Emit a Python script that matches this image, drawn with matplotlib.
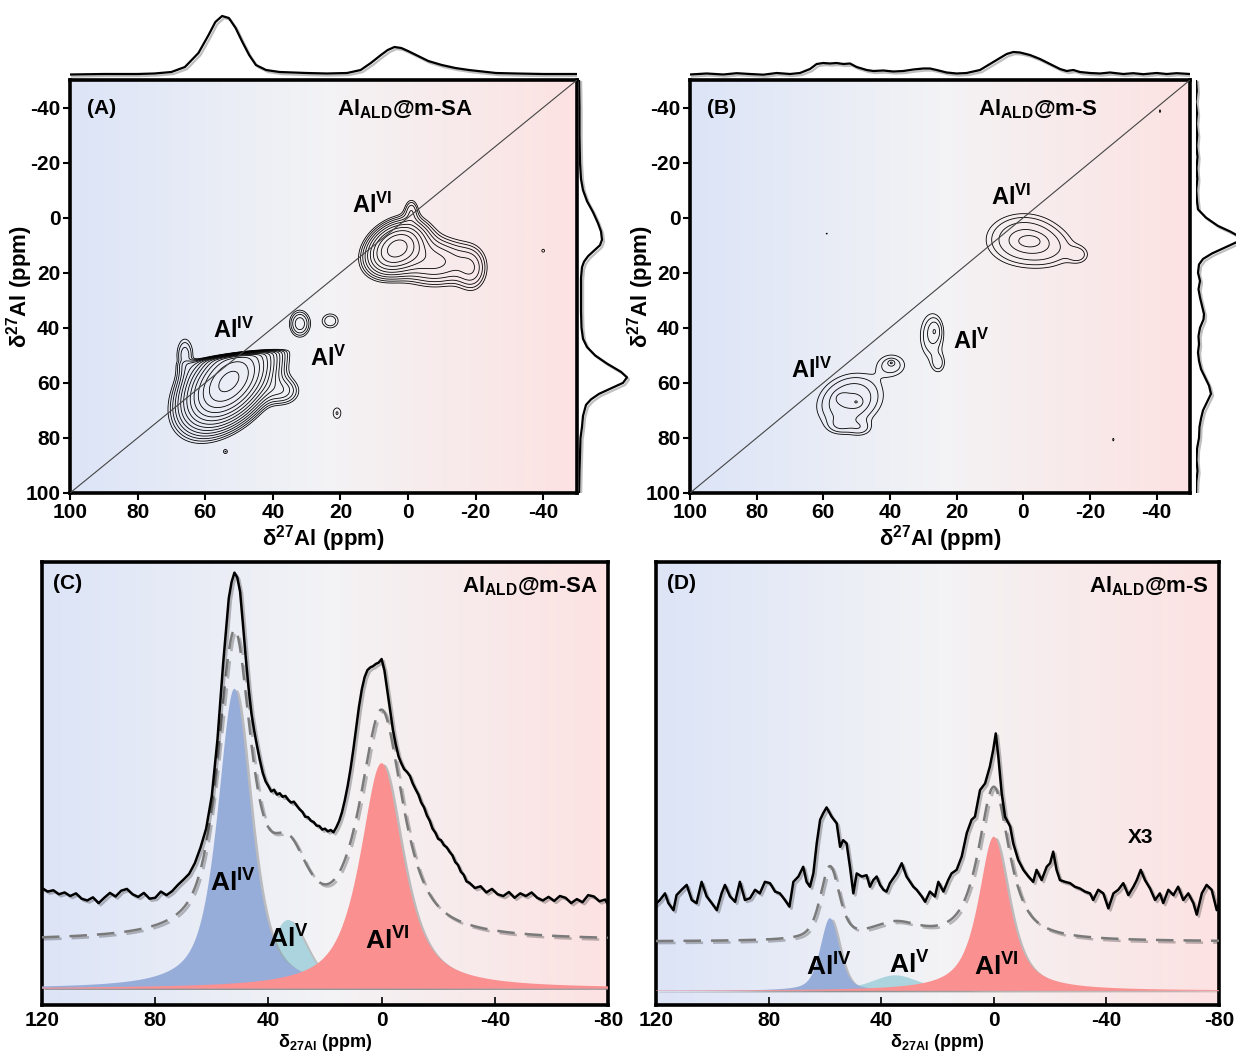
import numpy as np
import matplotlib.pyplot as plt
import matplotlib.patheffects as pe
from matplotlib.colors import LinearSegmentedColormap

plt.rcParams['font.family'] = ['Liberation Sans', 'DejaVu Sans']
plt.rcParams['font.weight'] = 'bold'
plt.rcParams['axes.labelweight'] = 'bold'
plt.rcParams['mathtext.default'] = 'regular'
plt.rcParams['axes.unicode_minus'] = False

# ---------------- 2D panels: peak lists ----------------
# columns: F2 centre, F1 centre, sigma F2, sigma F1, tilt, amplitude (ppm)
a_c2 = [53, 66, 37, 54, 32, 23, 21, 3.5, -8, -19, -1, -40]
a_c1 = [59.5, 50, 63, 85, 38.5, 37.5, 71, 11, 16, 19, -3, 12]
a_s2 = [6.8, 2.0, 3.5, 0.7, 2.2, 2.3, 1.5, 5.0, 7.0, 3.0, 1.5, 0.7]
a_s1 = [8.5, 5.0, 3.5, 0.9, 3.5, 2.5, 2.5, 5.5, 5.5, 5.5, 3.0, 0.9]
a_r = [0.45, 0, 0, 0, 0, 0, 0, 0.3, 0, 0, 0, 0]
a_amp = [1.0, 0.06, 0.07, 0.036, 0.08, 0.05, 0.04, 0.35, 0.12, 0.06, 0.05, 0.036]
a_cut = (50, 0.15, 0.4)   # steep upper edge of the Al(IV) ridge
a_levels = [0.03 * 1.3 ** k for k in range(14)]

b_c2 = [52, 54.5, 50, 55, 49, 39.5, 39.6, 27.5, 25.5, 26.5, 0, -8, -16.5, -2, 59, -41, -27]
b_c1 = [66.5, 65.5, 67, 75.5, 76.5, 53.5, 52.7, 43, 53, 41, 8, 11.5, 13.5, 8.5, 5.8, -38.7, 80.6]
b_s2 = [6, 1.2, 1.2, 2.5, 2.5, 3.2, 0.6, 2.6, 1.5, 1.2, 6.5, 5.5, 2.2, 2.5, 0.5, 0.5, 0.5]
b_s1 = [6, 1.2, 1.2, 2, 2, 3.0, 0.6, 6.0, 2.5, 2.5, 5.5, 4.5, 2.2, 1.5, 0.6, 1.0, 1.0]
b_r = [0.2] + [0] * 16
b_amp = [0.12, 0.05, 0.05, 0.045, 0.045, 0.06, 0.06, 0.07, 0.05, 0.05, 0.13, 0.05, 0.05, 0.06,
         0.033, 0.034, 0.034]
b_levels = [0.03, 0.045, 0.07, 0.11, 0.16]

# ---------------- projections (px above baseline) ----------------
a_top_ppm = [100, 90, 80, 75, 70, 66, 62, 59, 57, 55, 53, 51, 49, 47, 45, 42, 38, 30, 24, 18, 14, 11,
             8, 6, 4, 2, 0, -3, -6, -10, -14, -18, -22, -26, -32, -40, -50]
a_top_val = [0.5, 1, 1, 1.5, 3, 8, 22, 40, 53, 59, 57, 47, 33, 20, 10, 5, 3, 2, 1.5, 2, 5, 12,
             20, 25, 28, 27, 24, 19, 14, 10, 7, 5, 3.5, 2, 1.5, 1, 1]
b_top_ppm = [100, 95, 90, 86, 82, 78, 74, 70, 67, 64, 62, 60, 58, 56, 54, 52, 50, 47, 45, 42, 39, 36,
             33, 30, 28, 26, 23, 20, 17, 13, 10, 7, 5, 3, 1, -2, -5, -8, -11, -13, -15, -17, -20,
             -23, -26, -30, -33, -36, -40, -43, -46, -50]
b_top_val = [0.5, 1.5, 0.5, 1.8, 1, 0.3, 2, 1, 2, 6, 11, 12, 11.5, 12, 11, 11.5, 8, 5, 4, 4.5, 3.5, 4,
             5.5, 6.5, 6.5, 5, 2.5, 1.5, 2, 5, 11, 17, 21, 23, 22.5, 20, 16, 11, 6, 4, 5, 3, 2,
             1.5, 2.5, 1, 1.8, 0.8, 2, 1, 1.8, 1]
a_right_ppm = [-50, -40, -30, -20, -14, -10, -6, -2, 2, 5, 8, 10, 12, 14, 16, 18, 22, 28, 34, 40, 44,
               47, 50, 53, 56, 58, 60, 62, 64, 66, 68, 72, 76, 80, 86, 92, 100]
a_right_val = [0, 0.5, 0.5, 1, 2, 4, 8, 14, 19, 22, 23, 21, 15, 9, 5, 3, 2, 2, 2, 2.5, 4,
               8, 16, 28, 42, 48, 44, 32, 20, 12, 7, 4, 3, 1.5, 1, 0.5, 0]
b_right_ppm = [-50, -46, -42, -38, -34, -30, -26, -22, -18, -14, -10, -6, -3, 0, 3, 5, 7, 8, 9, 11,
               13, 15, 17, 20, 23, 26, 29, 32, 35, 37, 40, 43, 46, 49, 52, 55, 58, 61, 64, 67,
               70, 73, 76, 80, 84, 88, 92, 96, 100]
b_right_val = [0, 0.8, -0.5, 1, 0, 1.2, 0.3, 1.5, 0.5, 1.3, 0.2, 1, 2, 10, 22, 34, 44, 46, 40, 28,
               16, 7, 3, 2, 4, 2.5, 4, 6, 8, 7.5, 4, 2.5, 3, 2, 3, 5, 9, 13, 15, 11,
               7, 5, 3.5, 3, 1, 0.5, 1.5, 0.3, 0]

# ---------------- 1D spectra (percent of panel height) ----------------
c_ppm = [120, 118, 116, 114, 112, 110, 108, 106, 104, 102, 100, 98, 96, 94, 92, 90, 88, 86, 84, 82,
         80, 78, 76, 74, 72, 70, 68, 66, 64, 62, 60, 58, 56, 54, 53, 52, 51, 50, 49, 48, 47, 46,
         45, 44, 43, 42, 41, 40, 39, 38, 37, 36, 35, 34, 33, 32, 31, 30, 29, 28, 27, 26, 25, 24,
         23, 22, 21, 20, 19, 18, 17, 16, 15, 14, 13, 12, 11, 10, 9, 8, 7, 6, 5, 4, 3, 2, 1, 0,
         -1, -2, -3, -4, -5, -6, -7, -8, -9, -10, -11, -12, -13, -14, -15, -16, -17, -18, -19,
         -20, -21, -22, -23, -24, -25, -26, -27, -28, -29, -30, -31, -33, -35, -37, -39, -41,
         -43, -45, -47, -49, -51, -53, -55, -57, -59, -61, -63, -65, -67, -69, -71, -73, -75,
         -77, -79, -80]
c_int = [26.4, 25.6, 25.9, 25.0, 25.4, 24.6, 25.2, 24.0, 23.6, 24.3, 23.0, 24.2, 25.3, 24.5, 25.8,
         26.2, 25.0, 24.4, 25.3, 24.0, 24.2, 25.6, 24.8, 25.7, 27.1, 28.3, 29.6, 32.0, 35.5, 39.8,
         47.2, 59.9, 77.0, 91.8, 95.5, 97.6, 96.5, 93.3, 86.0, 78.4, 71.5, 65.8, 61.8, 58.4, 55.2,
         52.4, 50.5, 49.4, 48.2, 48.6, 47.5, 47.8, 47.0, 47.2, 46.3, 45.7, 45.9, 45.0, 44.2, 43.6,
         42.5, 42.4, 41.6, 41.3, 40.5, 40.4, 39.6, 39.8, 39.2, 39.5, 39.0, 40.1, 41.5, 43.5, 46.2,
         49.4, 53.2, 57.6, 62.5, 67.3, 71.2, 74.0, 75.6, 76.2, 76.5, 77.0, 77.3, 78.1, 75.5, 71.0,
         66.5, 62.1, 58.8, 56.1, 54.5, 53.2, 52.6, 51.7, 50.0, 48.7, 47.5, 45.7, 44.6, 42.8, 41.6,
         39.8, 38.9, 37.5, 37.2, 36.1, 35.6, 34.6, 33.8, 32.3, 31.6, 30.1, 29.4, 27.9, 27.6, 26.4,
         26.8, 25.4, 26.2, 25.0, 24.6, 25.5, 24.2, 25.2, 24.6, 25.4, 24.2, 23.6, 24.4, 23.5, 24.6,
         24.2, 23.0, 23.9, 23.2, 24.8, 24.5, 23.4, 23.8, 22.7]

d_ppm = [120.4, 118.6, 116.8, 115.6, 113.8, 112.7, 110.9, 109.1, 107.3, 105.6, 103.8, 102.0, 100.2,
         98.4, 96.7, 95.5, 93.7, 91.9, 90.2, 88.4, 86.6, 84.8, 83.1, 81.3, 79.5, 77.7, 76.0, 74.2,
         72.6, 71.2, 69.4, 67.7, 66.5, 65.3, 64.1, 62.9, 61.7, 60.6, 59.4, 57.6, 55.8, 54.6, 53.5,
         52.3, 51.1, 49.9, 48.7, 46.9, 45.2, 44.0, 42.8, 41.6, 40.4, 39.2, 38.1, 36.9, 34.5, 32.7,
         31.0, 28.6, 27.4, 25.6, 24.4, 22.7, 20.9, 19.7, 17.9, 16.2, 15.0, 13.2, 11.4, 9.6, 7.9,
         6.7, 4.9, 3.1, 1.4, 0.2, -0.7, -1.6, -2.8, -4.0, -5.8, -6.9, -8.7, -10.5, -12.3, -14.0,
         -15.2, -17.0, -18.8, -20.0, -21.1, -22.3, -23.5, -25.3, -27.1, -28.8, -30.6, -32.4, -34.2,
         -35.3, -37.1, -38.9, -40.7, -42.5, -44.2, -46.0, -47.8, -49.6, -50.8, -52.2, -53.7, -55.5,
         -57.3, -59.0, -60.2, -62.0, -63.8, -65.5, -67.3, -69.1, -70.9, -72.1, -73.9, -75.6, -77.4,
         -79.2, -80.1]
d_int = [22.6, 23.7, 25.2, 23.0, 21.4, 24.8, 26.0, 27.1, 23.7, 23.0, 27.8, 24.5, 23.0, 21.4, 25.2,
         27.1, 24.5, 23.3, 27.8, 23.7, 24.1, 26.0, 25.2, 27.8, 27.5, 25.6, 25.2, 23.7, 22.2, 27.8,
         29.0, 31.2, 27.8, 26.7, 29.7, 36.5, 41.8, 43.3, 44.6, 42.5, 41.0, 35.7, 37.2, 36.5, 31.2,
         25.2, 29.7, 29.0, 29.3, 26.7, 28.2, 29.0, 27.1, 26.0, 25.6, 27.5, 29.7, 32.0, 29.0, 26.7,
         26.0, 24.5, 23.3, 25.6, 24.5, 27.8, 25.6, 28.2, 29.7, 30.5, 33.5, 38.8, 41.8, 42.5, 48.5,
         50.0, 53.8, 57.6, 61.3, 56.1, 47.8, 42.5, 40.3, 36.5, 32.7, 30.5, 29.0, 27.8, 30.5, 28.2,
         31.2, 32.0, 34.6, 30.5, 28.2, 27.8, 27.5, 26.7, 26.3, 25.6, 25.2, 23.7, 26.0, 25.2, 21.8,
         25.2, 26.0, 27.5, 24.8, 26.7, 28.2, 30.5, 28.2, 26.3, 23.7, 25.2, 23.0, 26.0, 24.8, 26.7,
         23.7, 25.2, 23.0, 20.4, 25.2, 27.1, 26.0, 21.4, 23.0]

# fitted components: centre, height, half width, lorentz fraction
c_comp_c = [33, 52, 0]
c_comp_h = [15.5, 67.7, 50.9]
c_comp_w = [8.0, 7.0, 9.0]
c_comp_eta = [0.5, 0.7, 0.8]
c_base, c_fit_offset = 3.7, 10.8
d_comp_c = [35, 58.2, 0]
d_comp_h = [3.5, 16.4, 34.8]
d_comp_w = [10.0, 4.0, 6.5]
d_comp_eta = [0.5, 0.5, 0.8]
d_base, d_fit_offset = 3.2, 11.1
comp_colors = ['#abd4de', '#97add9', '#fa9090']   # Al(V), Al(IV), Al(VI)

W, H = 1236, 1057
bg = LinearSegmentedColormap.from_list('bg', ['#dce4f7', '#f3f3f5', '#fde2e2'])
grad = np.linspace(0, 1, 256).reshape(1, -1)
shadow = [pe.SimpleLineShadow(offset=(1.5, -1.5), alpha=0.25), pe.Normal()]


def rect(x0, y0, x1, y1):
    return [x0 / W, 1 - y1 / H, (x1 - x0) / W, (y1 - y0) / H]


def background(ax):
    ax.imshow(grad, extent=[0, 1, 0, 1], transform=ax.transAxes, aspect='auto', cmap=bg,
              zorder=0, interpolation='bicubic')


def surface(c2, c1, s2, s1, r, amp, cut=None):
    f2 = np.linspace(100, -50, 450)
    f1 = np.linspace(-50, 100, 450)
    X, Y = np.meshgrid(f2, f1)
    Z = np.zeros_like(X)
    for i in range(len(c2)):
        u = (X - c2[i]) / s2[i]
        v = (Y - c1[i]) / s1[i]
        g = amp[i] * np.exp(-(u * u - 2 * r[i] * u * v + v * v) / (2 * (1 - r[i] ** 2)))
        if cut is not None and i == 0:
            g = g / (1 + np.exp(-(Y - cut[0] - cut[1] * (X - 51)) / cut[2]))
        Z += g
    return X, Y, Z


def pv(x, c, h, w, eta):
    d = (x - c) / w
    return h * (eta / (1 + d * d) + (1 - eta) * np.exp(-np.log(2) * d * d))


fig = plt.figure(figsize=(W / 100, H / 100), dpi=100)

panels_2d = [
    (rect(70, 80, 577, 493), (a_c2, a_c1, a_s2, a_s1, a_r, a_amp), a_cut, a_levels, '(A)',
     'Al$_{ALD}$@m-SA', 0.795, -0.07,
     [('Al$^{VI}$', 10.7, -4.5), ('Al$^{IV}$', 51.5, 41), ('Al$^{V}$', 23.5, 51)]),
    (rect(690, 80, 1190, 493), (b_c2, b_c1, b_s2, b_s1, b_r, b_amp), None, b_levels, '(B)',
     'Al$_{ALD}$@m-S', 0.815, -0.068,
     [('Al$^{VI}$', 3.5, -7.5), ('Al$^{IV}$', 63.5, 55.5), ('Al$^{V}$', 15.5, 45)]),
]
for box, peaks, cut, levels, tag, sample, sx, ylx, labels in panels_2d:
    ax = fig.add_axes(box)
    background(ax)
    X, Y, Z = surface(*peaks, cut=cut)
    ax.contour(X, Y, Z, levels=levels, colors='k', linewidths=0.6, zorder=2)
    ax.plot([100, -50], [100, -50], color='#444444', lw=0.8, zorder=3)
    ax.set_xlim(100, -50)
    ax.set_ylim(100, -50)
    ax.set_xticks(range(100, -41, -20))
    ax.set_yticks(range(-40, 101, 20))
    ax.tick_params(labelsize=15, length=5, width=1.5, pad=2)
    for s in ax.spines.values():
        s.set_linewidth(2.6)
    ax.set_xlabel('δ$^{27}$Al (ppm)', fontsize=16, labelpad=1)
    ax.set_ylabel('δ$^{27}$Al (ppm)', fontsize=16)
    ax.yaxis.set_label_coords(ylx, 0.5)
    ax.text(0.034, 0.93, tag, transform=ax.transAxes, fontsize=15, va='center')
    ax.text(sx, 0.93, sample, transform=ax.transAxes, fontsize=16, va='center', ha='right')
    for txt, x, y in labels:
        ax.text(x, y, txt, fontsize=17, ha='center', va='center', zorder=4)

# projections
proj = [
    (rect(70, 5, 577, 78), a_top_ppm, a_top_val, 'top'),
    (rect(690, 5, 1190, 78), b_top_ppm, b_top_val, 'top'),
    (rect(579, 80, 660, 493), a_right_ppm, a_right_val, 'right'),
    (rect(1196, 80, 1277, 493), b_right_ppm, b_right_val, 'right'),
]
for box, ppm, val, side in proj:
    ax = fig.add_axes(box)
    ax.set_axis_off()
    if side == 'top':
        ax.plot(ppm, val, color='k', lw=1.6, path_effects=shadow)
        ax.set_xlim(100, -50)
        ax.set_ylim(-3, 70)
    else:
        ax.plot(val, ppm, color='k', lw=1.6, path_effects=shadow)
        ax.set_ylim(100, -50)
        ax.set_xlim(0, 81)

# 1D spectra with deconvolution
panels_1d = [
    (rect(42, 562, 608, 1005), c_ppm, c_int, c_comp_c, c_comp_h, c_comp_w, c_comp_eta, c_base,
     c_fit_offset, '(C)', 'Al$_{ALD}$@m-SA',
     [('Al$^{IV}$', 52.5, 27.5), ('Al$^{V}$', 33, 15), ('Al$^{VI}$', -2, 14.5)]),
    (rect(656, 562, 1219, 1005), d_ppm, d_int, d_comp_c, d_comp_h, d_comp_w, d_comp_eta, d_base,
     d_fit_offset, '(D)', 'Al$_{ALD}$@m-S',
     [('Al$^{IV}$', 58.5, 8.5), ('Al$^{V}$', 30, 9), ('Al$^{VI}$', -1, 8.5)]),
]
for (box, ppm, inten, cc, ch, cw, ceta, base, off, tag, sample, labels) in panels_1d:
    ax = fig.add_axes(box)
    background(ax)
    x = np.linspace(120, -80, 800)
    total = np.zeros_like(x)
    for k in range(3):
        comp = pv(x, cc[k], ch[k], cw[k], ceta[k])
        total += comp
        ax.fill(np.concatenate([x, x[::-1]]),
                np.concatenate([base + comp, np.full_like(x, base)]),
                color=comp_colors[k], lw=0, zorder=2 + k,
                path_effects=[pe.SimplePatchShadow(offset=(2, -1), shadow_rgbFace='#888888',
                                                   alpha=0.5), pe.Normal()])
    ax.plot(x, base + off + total, color='#7a7a7a', lw=1.8, dashes=(7, 4), zorder=6,
            path_effects=shadow)
    ax.plot(ppm, inten, color='k', lw=1.8, zorder=7, path_effects=shadow)
    ax.set_xlim(120, -80)
    ax.set_ylim(0, 100)
    ax.set_yticks([])
    ax.set_xticks(range(120, -81, -40))
    ax.tick_params(axis='x', direction='in', labelsize=15, length=6, width=1.2, pad=4)
    for s in ax.spines.values():
        s.set_linewidth(2.6)
    ax.set_xlabel('δ$_{27Al}$ (ppm)', fontsize=13, labelpad=2)
    ax.text(0.02, 0.952, tag, transform=ax.transAxes, fontsize=15, va='center')
    ax.text(0.982, 0.945, sample, transform=ax.transAxes, fontsize=16, va='center', ha='right')
    for txt, px, py in labels:
        ax.text(px, py, txt, fontsize=19, ha='center', va='center', zorder=8)
    if tag == '(D)':
        ax.text(-52, 37.7, 'X3', fontsize=15, ha='center', va='center', zorder=8)

fig.savefig('out.png', dpi=100)
